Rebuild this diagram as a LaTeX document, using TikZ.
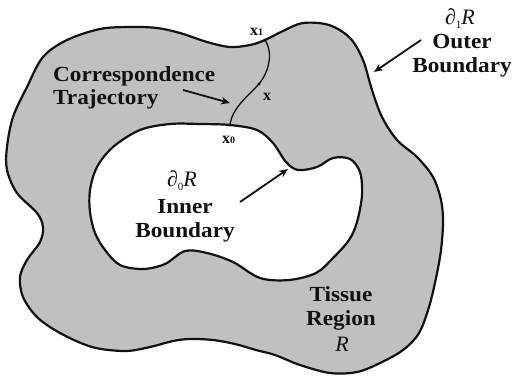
\documentclass[tikz,border=0pt]{standalone}
\usepackage{fontspec}
\setmainfont{Liberation Serif}
\newfontfamily\lblfont[FakeStretch=1.08]{Liberation Serif}
\usetikzlibrary{arrows.meta}
\definecolor{tissue}{RGB}{192,192,192}
\definecolor{ink}{RGB}{17,17,17}
\begin{document}
\begin{tikzpicture}[x=1pt,y=-1pt,
  bnd/.style={line width=2.2pt, line join=round, draw=ink},
  lbl/.style={font=\lblfont\fontsize{21.5}{23.8}\selectfont\bfseries, inner sep=0pt, text=ink},
  sym/.style={font=\fontsize{22}{22}\selectfont\itshape, inner sep=0pt, text=ink},
  ptlbl/.style={font=\fontsize{16}{16}\selectfont\bfseries, inner sep=0pt, text=ink},
  ptr/.style={line width=1.8pt, draw=ink, -{Stealth[length=9pt,width=7.5pt]}},
  traj/.style={line width=1.3pt, draw=ink},
  dot/.style={circle, fill=ink, inner sep=0pt, minimum size=3.4pt}
]
\useasboundingbox (0,0) rectangle (516,378);

% tissue region (outer boundary)
\filldraw[bnd, fill=tissue] plot[smooth cycle, tension=0.55] coordinates {
 (265,40) (283,31) (303,23) (329,25) (350,38) (363,60) (372,90) (382,117)
 (397,140) (417,157) (433,177) (441,200) (443,222) (441,250) (436,278)
 (429,307) (419,333) (403,350) (380,363) (357,372) (330,373) (300,365)
 (275,355) (256,350) (235,344) (213,340) (190,339) (173,341) (150,347)
 (125,351) (92,347) (60,333) (37,317) (23,297) (20,277) (27,260) (40,242)
 (43,227) (37,213) (17,193) (7,170) (7,147) (13,117) (27,87) (43,57)
 (67,40) (100,29) (130,27) (157,28) (180,33) (207,42) (230,47) (250,45)};

% inner boundary
\filldraw[bnd, fill=white] plot[smooth cycle, tension=0.55] coordinates {
 (230,125) (257,130) (273,143) (286,162) (298,170) (317,167) (333,158)
 (350,159) (360,172) (362,195) (357,222) (349,240) (333,258) (316,273)
 (289,280) (260,278) (233,262) (207,253) (185,251) (165,264) (143,269)
 (120,265) (105,250) (95,233) (90,212) (90,190) (97,167) (113,147)
 (140,130) (170,124) (200,124)};

% correspondence trajectory
\coordinate (x0p) at (230,125);
\coordinate (xp) at (259,84);
\coordinate (x1p) at (265,40);
\draw[traj] (x0p) .. controls (232,108) and (248,96) .. (xp)
                  .. controls (268,73) and (274,54) .. (x1p);
\node[dot] at (x0p) {};
\node[dot] at (xp) {};
\node[dot] at (x1p) {};

\node[ptlbl, anchor=base west] (lx1) at (250,35) {x{\fontsize{10}{10}\selectfont 1}};
\node[ptlbl, anchor=base] (lx) at (267,100) {x};
\node[ptlbl, anchor=base west] (lx0) at (222,143) {x{\fontsize{10}{10}\selectfont 0}};

% labels
\node[lbl, anchor=north west, align=left] (ct) at (53,66) {Correspondence\\Trajectory};
\node[sym, anchor=base] (d1) at (460,24) {∂\raisebox{-4pt}{\fontsize{11}{11}\selectfont\upshape 1}R};
\node[lbl, anchor=north, align=center] (ob) at (462,34.5) {Outer\\Boundary};
\node[sym, anchor=base] (d0) at (182,186) {∂\raisebox{-4pt}{\fontsize{11}{11}\selectfont\upshape 0}R};
\node[lbl, anchor=north, align=center] (ib) at (185,199) {Inner\\Boundary};
\node[lbl, anchor=north, align=center] (tr) at (341,286.5) {Tissue\\Region};
\node[sym, anchor=base] (rr) at (342,351) {R};

% pointer arrows
\coordinate (ct-s) at (183,90);  \coordinate (ct-e) at (230,103);
\coordinate (ob-s) at (421,40);  \coordinate (ob-e) at (374,72);
\coordinate (ib-s) at (240,202); \coordinate (ib-e) at (288,169);
\draw[ptr] (ct-s) -- (ct-e);
\draw[ptr] (ob-s) -- (ob-e);
\draw[ptr] (ib-s) -- (ib-e);
\end{tikzpicture}
\end{document}
